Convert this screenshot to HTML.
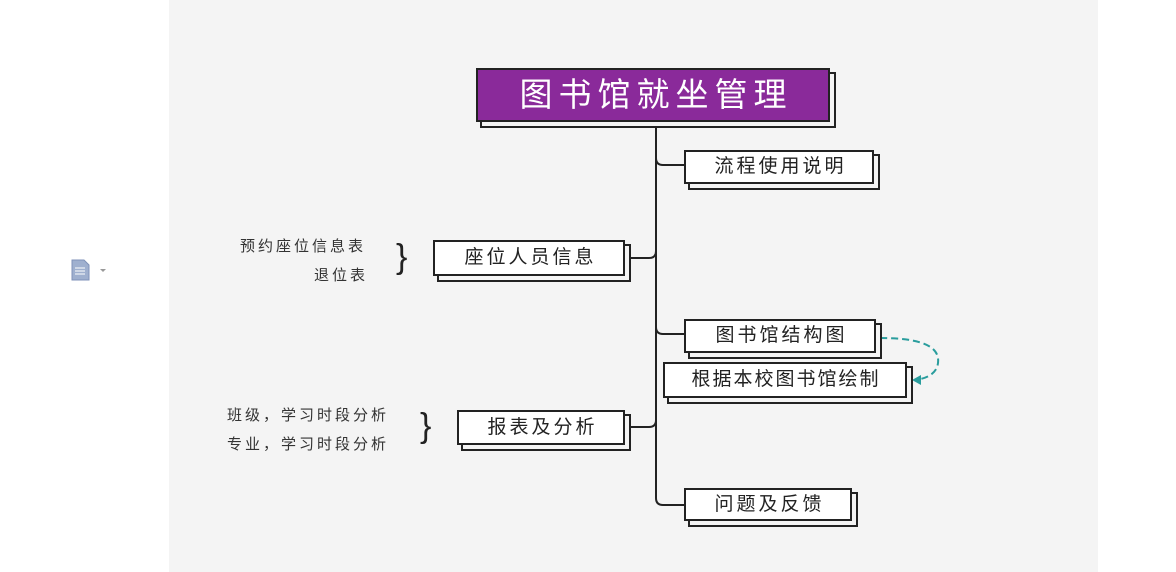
<!DOCTYPE html>
<html><head><meta charset="utf-8"><style>
body{margin:0;width:1176px;height:572px;background:#fff;position:relative;overflow:hidden;font-family:"Liberation Sans","Noto Sans CJK SC",sans-serif;}
.panel{position:absolute;left:169px;top:0;width:929px;height:572px;background:#f4f4f4;}
.b{position:absolute;box-sizing:border-box;border:2px solid #222;background:#fff;color:#222;font-size:19px;text-align:center;letter-spacing:3px;text-indent:3px;box-shadow:5px 5px 0 -1px #f4f4f4,5px 5px 0 1px #222;}
.t{position:absolute;font-size:15px;color:#333;white-space:nowrap;letter-spacing:3px;}
.br{position:absolute;font-size:34px;color:#222;font-weight:300;line-height:1;}
</style></head><body>
<div class="panel"></div>
<svg style="position:absolute;left:70px;top:259px" width="40" height="22"><path d="M2 1h12l5 5v15H2z" fill="#9fb0cf" stroke="#7f92b8"/><path d="M5 9h10M5 12h10M5 15h10" stroke="#fff"/><path d="M30 10l3 3 3-3z" fill="#999"/></svg>
<svg style="position:absolute;left:0;top:0" width="1176" height="572">
<g fill="none" stroke="#222" stroke-width="2">
<path d="M656 122V498q0 7 7 7h21"/>
<path d="M656 158q0 7 7 7h21"/>
<path d="M656 327q0 7 7 7h21"/>
<path d="M625 258h24q7 0 7-7"/>
<path d="M625 427h24q7 0 7-7"/>
</g>
<path d="M880 338q55 0 58 20q2 18-22 22" fill="none" stroke="#2a9d9d" stroke-width="2" stroke-dasharray="7 4"/>
<path d="M912 380l9-5v10z" fill="#2a9d9d"/>
</svg>
<div class="b" style="left:476px;top:68px;width:354px;height:54px;background:#8a2a9a;color:#fff;font-size:33px;line-height:50px;letter-spacing:6px;text-indent:6px">图书馆就坐管理</div>
<div class="b" style="left:684px;top:150px;width:190px;height:34px;line-height:30px">流程使用说明</div>
<div class="b" style="left:433px;top:240px;width:192px;height:36px;line-height:32px">座位人员信息</div>
<div class="b" style="left:684px;top:319px;width:192px;height:34px;line-height:30px">图书馆结构图</div>
<div class="b" style="left:663px;top:362px;width:244px;height:36px;line-height:32px;letter-spacing:2px;text-indent:2px">根据本校图书馆绘制</div>
<div class="b" style="left:457px;top:410px;width:168px;height:35px;line-height:31px">报表及分析</div>
<div class="b" style="left:684px;top:488px;width:168px;height:33px;line-height:29px">问题及反馈</div>
<div class="t" style="left:240px;top:235px">预约座位信息表</div>
<div class="t" style="left:314px;top:264px">退位表</div>
<div class="br" style="left:396px;top:240px">}</div>
<div class="t" style="left:227px;top:404px">班级，学习时段分析</div>
<div class="t" style="left:227px;top:433px">专业，学习时段分析</div>
<div class="br" style="left:420px;top:409px">}</div>
</body></html>
